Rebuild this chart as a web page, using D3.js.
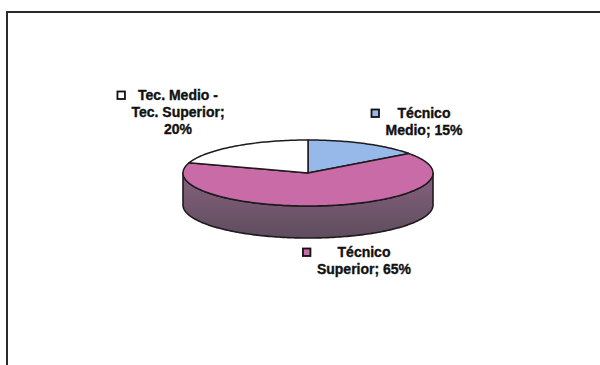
<!DOCTYPE html>
<html>
<head>
<meta charset="utf-8">
<script src="https://cdn.jsdelivr.net/npm/d3@7/dist/d3.min.js"></script>
<style>
  html, body { margin: 0; padding: 0; background: #fff; }
  svg { display: block; }
  text { font-family: "Liberation Sans", Arial, sans-serif; font-weight: bold; font-size: 14px; fill: #111; stroke: #111; stroke-width: 0.35px; }
</style>
</head>
<body>
<svg id="chart" width="600" height="365"></svg>
<script>
// Distribution by qualification level
const categories = ["Técnico Medio", "Técnico Superior", "Tec. Medio - Tec. Superior"];
const values = [15, 65, 20];
// how each category name is broken over label lines
const categoryLines = [["Técnico", "Medio;"], ["Técnico", "Superior;"], ["Tec. Medio -", "Tec. Superior;"]];
const percentOnOwnLine = [false, false, true];

const topColors = ["#97b9ea", "#c96ba6", "#ffffff"];
const sideTop = ["#6f7fa8", "#86617f", "#bbbbbb"];
const sideBottom = ["#55607d", "#5e4d5d", "#888888"];

const W = 600, H = 365;
const svg = d3.select("#chart");
svg.append("rect").attr("width", W).attr("height", H).attr("fill", "#fff");

// chart area frame (top and left edges)
svg.append("path")
  .attr("d", "M7,365 L7,12 L600,12")
  .attr("fill", "none").attr("stroke", "#2a2a2a").attr("stroke-width", 2);

// 3D pie geometry
const cx = 308, cy = 173, rx = 125, ry = 33, depth = 32;
const pie = d3.pie().sort(null).value(d => d);
const arcs = pie(values);

// ellipse point for an angle measured clockwise from 12 o'clock
const ex = d3.scaleLinear().domain([-1, 1]).range([cx - rx, cx + rx]);
const ey = d3.scaleLinear().domain([-1, 1]).range([cy - ry, cy + ry]);
const pt = (a, dy = 0) => [ex(Math.sin(a)), ey(-Math.cos(a)) + dy];
const sample = (a0, a1, dy = 0) => {
  const n = Math.max(2, Math.ceil(Math.abs(a1 - a0) / 0.02));
  return d3.range(n + 1).map(i => pt(a0 + (a1 - a0) * i / n, dy));
};
const line = d3.line();

const defs = svg.append("defs");
arcs.forEach((d, i) => {
  const g = defs.append("linearGradient").attr("id", "side" + i)
    .attr("x1", 0).attr("y1", 0).attr("x2", 0).attr("y2", 1);
  g.append("stop").attr("offset", "0%").attr("stop-color", sideTop[i]);
  g.append("stop").attr("offset", "100%").attr("stop-color", sideBottom[i]);
});

// side walls: only the front half of the ellipse is visible
const sides = svg.append("g");
arcs.forEach((d, i) => {
  const s = Math.max(d.startAngle, Math.PI / 2);
  const e = Math.min(d.endAngle, 3 * Math.PI / 2);
  if (e <= s) return;
  const pts = sample(s, e).concat(sample(e, s, depth));
  sides.append("path")
    .attr("d", line(pts) + "Z")
    .attr("fill", `url(#side${i})`)
    .attr("stroke", "#1e1a1e").attr("stroke-width", 1.6)
    .attr("stroke-linejoin", "round");
});

// top faces
const tops = svg.append("g");
arcs.forEach((d, i) => {
  const pts = [[cx, cy]].concat(sample(d.startAngle, d.endAngle));
  tops.append("path")
    .attr("d", line(pts) + "Z")
    .attr("fill", topColors[i])
    .attr("stroke", "#1e1a1e").attr("stroke-width", 1.5)
    .attr("stroke-linejoin", "round");
});

// data labels: centred text block with a legend key to its left
const labelAnchor = [
  { x: 424, y: 118 },
  { x: 364, y: 257 },
  { x: 178, y: 100 }
];
const lineStep = 17;
arcs.forEach((d, i) => {
  const v = values[i];
  const lines = categoryLines[i].slice();
  if (percentOnOwnLine[i]) lines.push(v + "%");
  else lines[lines.length - 1] += " " + v + "%";

  const g = svg.append("g");
  const t = g.append("text").attr("text-anchor", "middle");
  lines.forEach((l, k) => {
    t.append("tspan").attr("x", labelAnchor[i].x)
      .attr("y", labelAnchor[i].y + k * lineStep).text(l);
  });
  let maxW = 0;
  t.selectAll("tspan").each(function () { maxW = Math.max(maxW, this.getComputedTextLength()); });
  const left = labelAnchor[i].x - maxW / 2;
  g.append("rect")
    .attr("x", left - 14).attr("y", labelAnchor[i].y - 8.5)
    .attr("width", 7.5).attr("height", 7.5)
    .attr("fill", topColors[i])
    .attr("stroke", "#111").attr("stroke-width", 1.8);
});
</script>
</body>
</html>
